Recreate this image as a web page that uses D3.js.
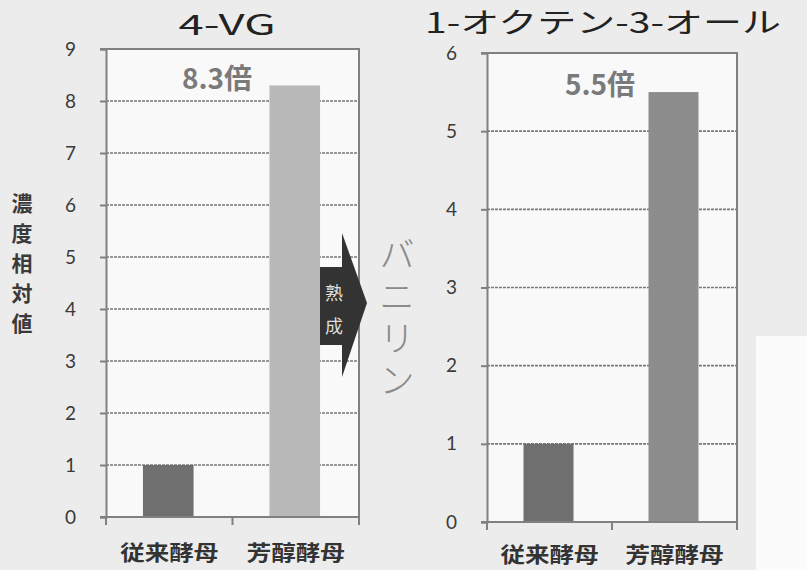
<!DOCTYPE html>
<html>
<head>
<meta charset="utf-8">
<script src="https://cdn.jsdelivr.net/npm/d3@7"></script>
<style>
  body { margin: 0; background: #eeeeee; }
  svg { display: block; }
</style>
</head>
<body>
<svg id="chart"></svg>
<script>
// Chart data
const categories = ["従来酵母", "芳醇酵母"];
const vg_values = [1, 8.3];
const octenol_values = [1, 5.5];
const vg_ticks = [0, 1, 2, 3, 4, 5, 6, 7, 8, 9];
const octenol_ticks = [0, 1, 2, 3, 4, 5, 6];
const vg_colors = ["#6f6f6f", "#b9b9b9"];
const octenol_colors = ["#6f6f6f", "#8d8d8d"];
const y_label_text = "濃度相対値";
const vanillin_text = "バニリン";
const aging_chars = ["熟", "成"];

const width = 807, height = 570;
const jp_font = "'Noto Sans CJK JP', sans-serif";
const num_font = "Lato, 'Noto Sans', sans-serif";

const svg = d3.select("#chart")
    .attr("width", width)
    .attr("height", height);

// Scanned page background, the lower right corner is lighter
svg.append("rect")
    .attr("width", width).attr("height", height)
    .attr("fill", "#ececec");
svg.append("rect")
    .attr("x", 756).attr("y", 336).attr("width", 51).attr("height", 234)
    .attr("fill", "#fbfbfb");

// Function to draw one bar panel
function draw_panel(p) {
    const x_scale = d3.scaleBand()
        .domain(categories)
        .range([p.left, p.right]);
    const y_scale = d3.scaleLinear()
        .domain([0, d3.max(p.ticks)])
        .range([p.bottom, p.top]);

    const g = svg.append("g");

    // Plot area
    g.append("rect")
        .attr("x", p.left).attr("y", p.top)
        .attr("width", p.right - p.left).attr("height", p.bottom - p.top)
        .attr("fill", "#f9f9f9");

    // Dashed gridlines
    g.selectAll(".grid")
        .data(p.ticks.filter(t => t > 0 && t < d3.max(p.ticks)))
        .join("line")
        .attr("x1", p.left).attr("x2", p.right)
        .attr("y1", d => y_scale(d)).attr("y2", d => y_scale(d))
        .attr("stroke", "#7a7a7a")
        .attr("stroke-width", 1.6)
        .attr("stroke-dasharray", "3,1");

    // Y axis with tick labels
    const y_axis = g.append("g")
        .attr("transform", `translate(${p.left}, 0)`)
        .call(d3.axisLeft(y_scale).tickValues(p.ticks).tickSize(6).tickPadding(24).tickFormat(d3.format("d")));
    y_axis.select(".domain").attr("stroke", "#808080").attr("stroke-width", 2);
    y_axis.selectAll(".tick line").attr("stroke", "#808080").attr("stroke-width", 2);
    y_axis.selectAll(".tick text")
        .attr("fill", "#3a3a3a")
        .style("font-family", num_font)
        .style("font-size", "19px");

    // Top and right frame
    g.append("path")
        .attr("d", `M${p.left - 6},${p.top}H${p.right}V${p.bottom}`)
        .attr("fill", "none")
        .attr("stroke", "#808080")
        .attr("stroke-width", 2);

    // Bars
    g.selectAll(".bar")
        .data(p.values)
        .join("rect")
        .attr("x", (d, i) => x_scale(categories[i]) + x_scale.bandwidth() * 0.3 - 1)
        .attr("y", d => y_scale(d))
        .attr("width", x_scale.bandwidth() * 0.4)
        .attr("height", d => y_scale(0) - y_scale(d))
        .attr("fill", (d, i) => p.colors[i]);

    // X axis line with ticks at the band edges
    g.append("line")
        .attr("x1", p.left - 6).attr("x2", p.right)
        .attr("y1", p.bottom).attr("y2", p.bottom)
        .attr("stroke", "#808080").attr("stroke-width", 2);
    const edges = [p.left].concat(categories.map(c => x_scale(c) + x_scale.bandwidth()));
    g.selectAll(".xtick")
        .data(edges)
        .join("line")
        .attr("x1", d => d).attr("x2", d => d)
        .attr("y1", p.bottom).attr("y2", p.bottom + 8)
        .attr("stroke", "#808080").attr("stroke-width", 2);

    // Category labels
    g.selectAll(".xlabel")
        .data(categories)
        .join("text")
        .attr("x", d => x_scale(d) + x_scale.bandwidth() / 2)
        .attr("y", p.bottom + p.label_offset)
        .attr("text-anchor", "middle")
        .attr("dominant-baseline", "central")
        .attr("fill", "#333")
        .attr("textLength", 98)
        .attr("lengthAdjust", "spacingAndGlyphs")
        .style("font-family", jp_font)
        .style("font-weight", "bold")
        .style("font-size", "21px")
        .text(d => d);

    // Title
    g.append("text")
        .attr("x", p.title_x).attr("y", p.title_y)
        .attr("text-anchor", "middle")
        .attr("fill", "#222")
        .attr("textLength", p.title_len)
        .attr("lengthAdjust", "spacingAndGlyphs")
        .style("font-family", jp_font)
        .style("font-size", p.title_size + "px")
        .text(p.title);

    // Ratio annotation
    g.append("text")
        .attr("x", p.note_x).attr("y", p.note_y)
        .attr("text-anchor", "middle")
        .attr("fill", "#7a7a7a")
        .style("font-family", jp_font)
        .style("font-weight", "bold")
        .style("font-size", "28px")
        .text(p.note);
}

draw_panel({
    left: 106, right: 359, top: 49, bottom: 517,
    ticks: vg_ticks, values: vg_values, colors: vg_colors,
    label_offset: 34,
    title: "4-VG", title_x: 227, title_y: 35, title_size: 28, title_len: 97,
    note: "8.3倍", note_x: 217, note_y: 89
});

draw_panel({
    left: 487, right: 737, top: 53, bottom: 522,
    ticks: octenol_ticks, values: octenol_values, colors: octenol_colors,
    label_offset: 31,
    title: "1-オクテン-3-オール", title_x: 603, title_y: 33, title_size: 28, title_len: 356,
    note: "5.5倍", note_x: 600, note_y: 95
});

// Vertical Y axis label
svg.append("text")
    .attr("x", 22)
    .attr("y", 193)
    .attr("fill", "#3a3a3a")
    .style("writing-mode", "vertical-rl")
    .style("letter-spacing", "9px")
    .style("font-family", jp_font)
    .style("font-weight", "bold")
    .style("font-size", "21px")
    .text(y_label_text);

// Aging arrow between the panels
svg.append("path")
    .attr("d", "M320,267H342V233L367,303L342,377V345H320Z")
    .attr("fill", "#333");
svg.selectAll(".aging")
    .data(aging_chars)
    .join("text")
    .attr("x", 334)
    .attr("y", (d, i) => 292 + i * 33)
    .attr("text-anchor", "middle")
    .attr("dominant-baseline", "central")
    .attr("fill", "#dedede")
    .style("font-family", jp_font)
    .style("font-size", "18px")
    .text(d => d);

// Vertical "vanillin" label
svg.append("text")
    .attr("x", 397)
    .attr("y", 236)
    .attr("fill", "#8a8a8a")
    .style("writing-mode", "vertical-rl")
    .style("letter-spacing", "6px")
    .style("font-family", jp_font)
    .style("font-weight", "300")
    .style("font-size", "36px")
    .text(vanillin_text);
</script>
</body>
</html>
